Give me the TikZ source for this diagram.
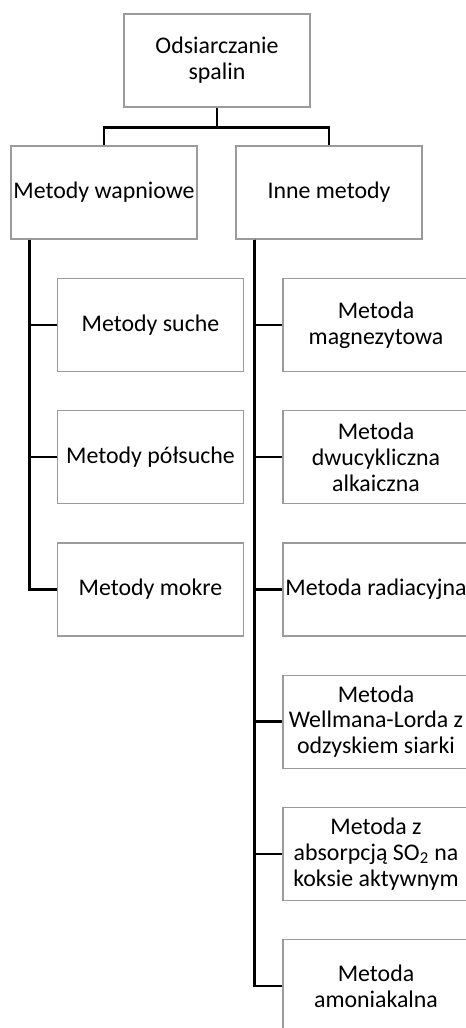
\documentclass[tikz,border=0pt]{standalone}
\usepackage{fontspec}
\setmainfont{Carlito}
\definecolor{BoxColor}{RGB}{155,155,155}
\definecolor{BranchColor}{RGB}{0,0,0}
\usetikzlibrary{positioning, calc}
\tikzstyle{method} = [rectangle, draw=BoxColor, line width=0.9pt, minimum width=139.5pt, minimum height=69.75pt, inner sep=1pt, align=center, font=\fontsize{17.9}{19.4}\selectfont]
\tikzstyle{branch} = [BranchColor, line width=1.9pt]

\begin{document}
\begin{tikzpicture}[x=0.75pt, y=-0.75pt]
    \useasboundingbox (0,0) rectangle (466,1028);

    % Top of the tree
    \node[method] (root) at (217,60.5) {Odsiarczanie\\spalin};
    \node[method] (wap) at (104,192.5) {Metody wapniowe};
    \node[method] (inne) at (329,192.5) {Inne metody};

    % Lime based methods
    \foreach \t [count=\i] in {Metody suche, Metody półsuche, Metody mokre} {
            \node[method] (l\i) at (150.5,{325+132.2*(\i-1)}) {\t};
        }

    % Other methods
    \foreach \t [count=\i] in {Metoda\\magnezytowa, Metoda\\dwucykliczna\\alkaiczna, Metoda radiacyjna, Metoda\\Wellmana-Lorda z\\odzyskiem siarki, Metoda z\\absorpcją SO\textsubscript{2} na\\koksie aktywnym, Metoda\\amoniakalna} {
            \node[method] (r\i) at (376,{325+132.2*(\i-1)}) {\t};
        }

    % Branches
    \draw[branch] (root.south) -- ++(0,20) coordinate (split);
    \draw[branch] (wap.north) |- (split) -| (inne.north);

    \coordinate (wapdrop) at ($(wap.south west)+(19,0)$);
    \coordinate (innedrop) at ($(inne.south west)+(19,0)$);
    \foreach \i in {1,2,3} {
            \draw[branch] (wapdrop) |- (l\i.west);
        }
    \foreach \i in {1,...,6} {
            \draw[branch] (innedrop) |- (r\i.west);
        }
\end{tikzpicture}
\end{document}
